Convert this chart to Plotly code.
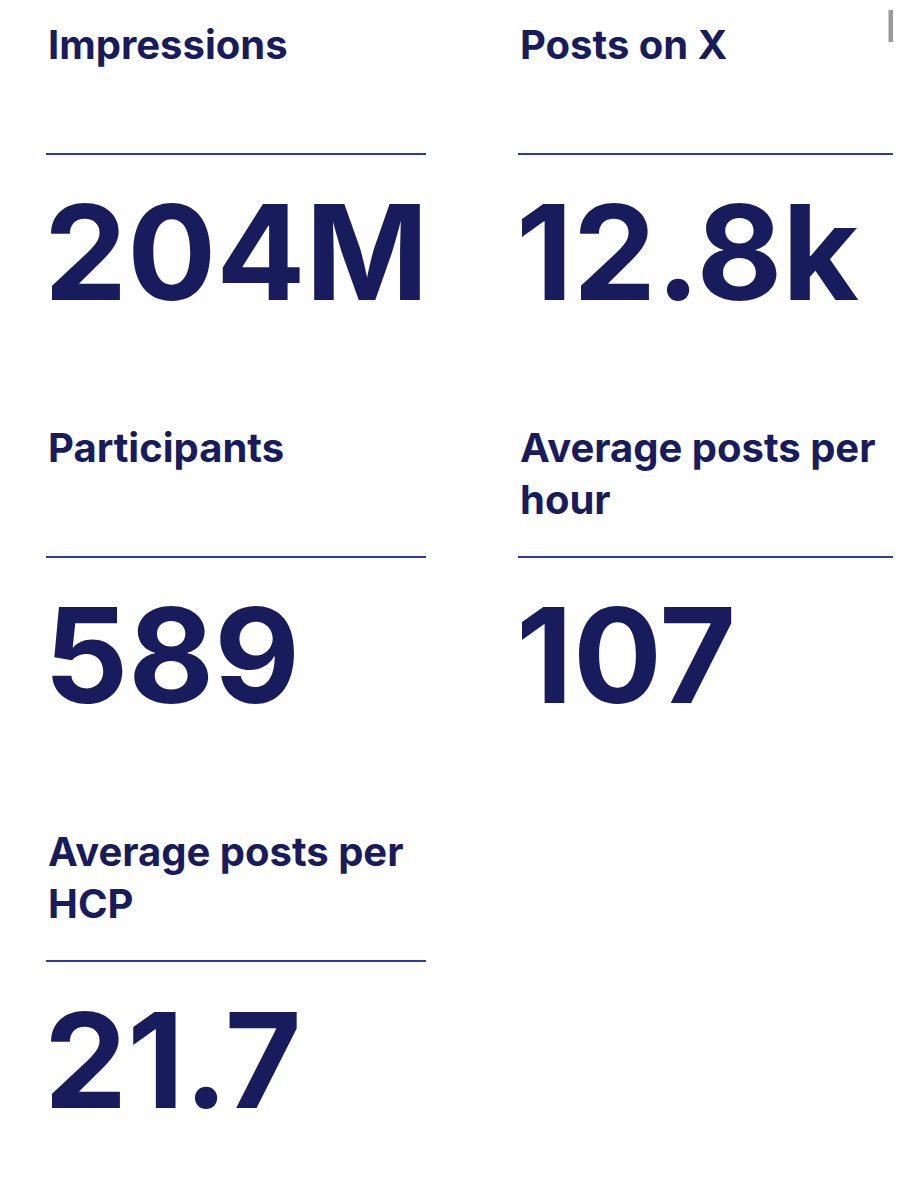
import plotly.graph_objects as go

labels = ["Impressions", "Posts on X", "Participants", "Average posts per<br>hour", "Average posts per<br>HCP"]
values = ["204M", "12.8k", "589", "107", "21.7"]

W, H = 901, 1200
OFF = 8  # page body margin
NAVY = "#181b5c"
RULE = "#2d3a9e"
col_x = [46, 518]
row_label_top = [18, 421, 825]   # px, top of label text box
row_rule = [154, 557, 961]
row_value_mid = [252, 655, 1060]

fig = go.Figure()

def px(x):
    return (x - OFF) / W

def py(y):
    return 1 - (y - OFF) / H

for i, (lab, val) in enumerate(zip(labels, values)):
    r, c = divmod(i, 2)
    x0 = col_x[c]
    fig.add_annotation(x=px(x0), y=py(row_label_top[r]), xref="paper", yref="paper",
                       text="<b>%s</b>" % lab, showarrow=False, xanchor="left", yanchor="top",
                       align="left", font=dict(family="Inter", size=40, color=NAVY))
    fig.add_shape(type="line", xref="paper", yref="paper",
                  x0=px(x0), x1=px(x0 + 380), y0=py(row_rule[r]), y1=py(row_rule[r]),
                  line=dict(color=RULE, width=2))
    fig.add_annotation(x=px(x0 - 4), y=py(row_value_mid[r]), xref="paper", yref="paper",
                       text="<b>%s</b>" % val, showarrow=False, xanchor="left", yanchor="middle",
                       font=dict(family="Inter", size=132, color=NAVY))

# scrollbar hint
fig.add_shape(type="line", xref="paper", yref="paper", x0=px(891), x1=px(891), y0=py(10), y1=py(42),
              line=dict(color="#9a9a9a", width=5))

fig.update_xaxes(visible=False)
fig.update_yaxes(visible=False)
fig.update_layout(width=W, height=H, margin=dict(l=0, r=0, t=0, b=0),
                  paper_bgcolor="white", plot_bgcolor="white", showlegend=False)
fig.write_html("out.html")
